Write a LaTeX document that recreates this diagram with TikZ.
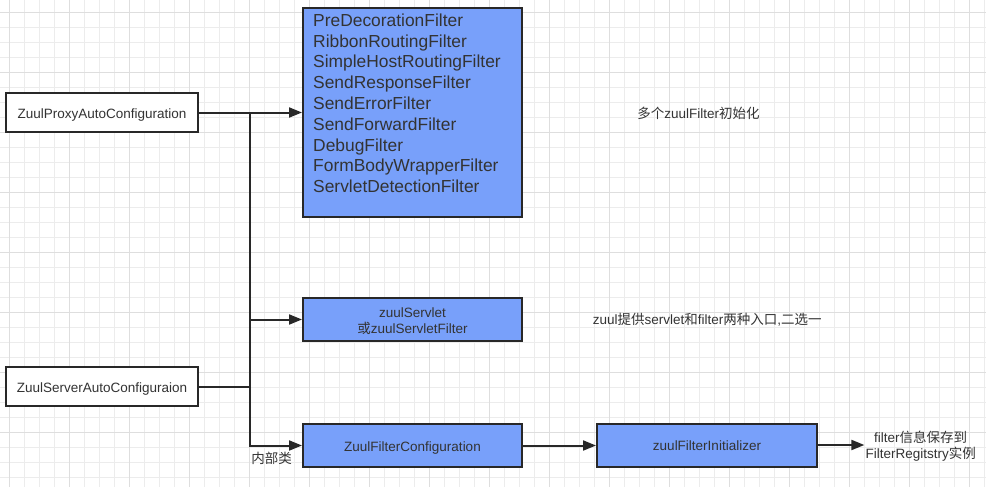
\documentclass[tikz,border=0pt]{standalone}
\usepackage{fontspec}
\setmainfont{Liberation Sans}
\newfontfamily\cjk{Noto Sans CJK SC}
\usetikzlibrary{arrows.meta}
\definecolor{gridminor}{RGB}{236,236,236}
\definecolor{gridmajor}{RGB}{222,222,222}
\definecolor{boxblue}{RGB}{120,160,250}
\definecolor{ink}{RGB}{40,40,40}
\definecolor{txt}{RGB}{51,51,51}
\tikzset{
  minorline/.style={draw=gridminor,line width=1pt},
  majorline/.style={draw=gridmajor,line width=1pt},
  whitebox/.style={draw=ink,line width=2pt,fill=white,minimum width=192pt,minimum height=39pt,inner sep=0pt,text=txt,font=\fontsize{13.5}{16}\selectfont,text height=11pt,text depth=0pt},
  bluebox/.style={draw=ink,line width=2pt,fill=boxblue,minimum width=219pt,minimum height=43pt,inner sep=0pt,text=txt,align=center,font=\fontsize{13.5}{16}\selectfont,text height=11pt,text depth=0pt},
  conn/.style={draw=ink,line width=2pt},
  arr/.style={conn,-{Triangle[length=13pt,width=10pt]}},
  note/.style={text=txt,inner sep=1pt,align=center,font=\fontsize{13.5}{16}\selectfont},
}
\begin{document}
\begin{tikzpicture}[x=1pt,y=-1pt]
\useasboundingbox (0,0) rectangle (986,487);
\fill[white] (0,0) rectangle (986,487);
% grid
\foreach \i in {0,...,65} \draw[minorline] ({9.3+15*\i},0) -- ({9.3+15*\i},487);
\foreach \i in {0,...,31} \draw[minorline] (0,{12.3+15*\i}) -- (986,{12.3+15*\i});
\foreach \i in {0,...,16} \draw[majorline] ({9.3+60*\i},0) -- ({9.3+60*\i},487);
\foreach \i in {0,...,7} \draw[majorline] (0,{12.3+60*\i}) -- (986,{12.3+60*\i});
% nodes
\node[whitebox] (proxy) at (102,112.5) {ZuulProxyAutoConfiguration};
\node[whitebox] (server) at (102,386.5) {ZuulServerAutoConfiguraion};
\node[bluebox,minimum height=209pt,text height=0pt] (filters) at (412.5,112.5) {};
\node[anchor=north west,align=left,inner sep=0pt,text=txt,font=\fontsize{17.4}{20.8}\selectfont] (filterlist) at (313,13.5)
  {PreDecorationFilter\\RibbonRoutingFilter\\SimpleHostRoutingFilter\\SendResponseFilter\\SendErrorFilter\\SendForwardFilter\\DebugFilter\\FormBodyWrapperFilter\\ServletDetectionFilter};
\node[bluebox,text height=27pt,text depth=0pt] (servlet) at (412.5,319.5) {zuulServlet\\{\cjk 或}zuulServletFilter};
\node[bluebox] (cfg) at (412.5,445.5) {ZuulFilterConfiguration};
\node[bluebox,minimum width=220pt] (init) at (707,445) {zuulFilterInitializer};
\node[note] (store) at (920.7,446) {filter{\cjk 信息保存到}\\FilterRegitstry{\cjk 实例}};
\node[note] (multi) at (698.5,113.3) {{\cjk 多个}zuulFilter{\cjk 初始化}};
\node[note] (choose) at (707.2,320) {zuul{\cjk 提供}servlet{\cjk 和}filter{\cjk 两种入口},{\cjk 二选一}};
\node[note] (inner) at (271.7,458.3) {\cjk 内部类};
% connectors
\coordinate (jx) at (250,112.5);
\draw[arr] (proxy.east) -- (filters.west |- proxy.east);
\draw[conn] (server.east) -- (server.east -| jx);
\draw[arr] (jx) |- (cfg.west);
\draw[arr] (jx |- servlet.west) -- (servlet.west);
\draw[arr] (cfg.east) -- (init.west |- cfg.east);
\draw[arr] (init.east) -- (store.west |- init.east);
\end{tikzpicture}
\end{document}
